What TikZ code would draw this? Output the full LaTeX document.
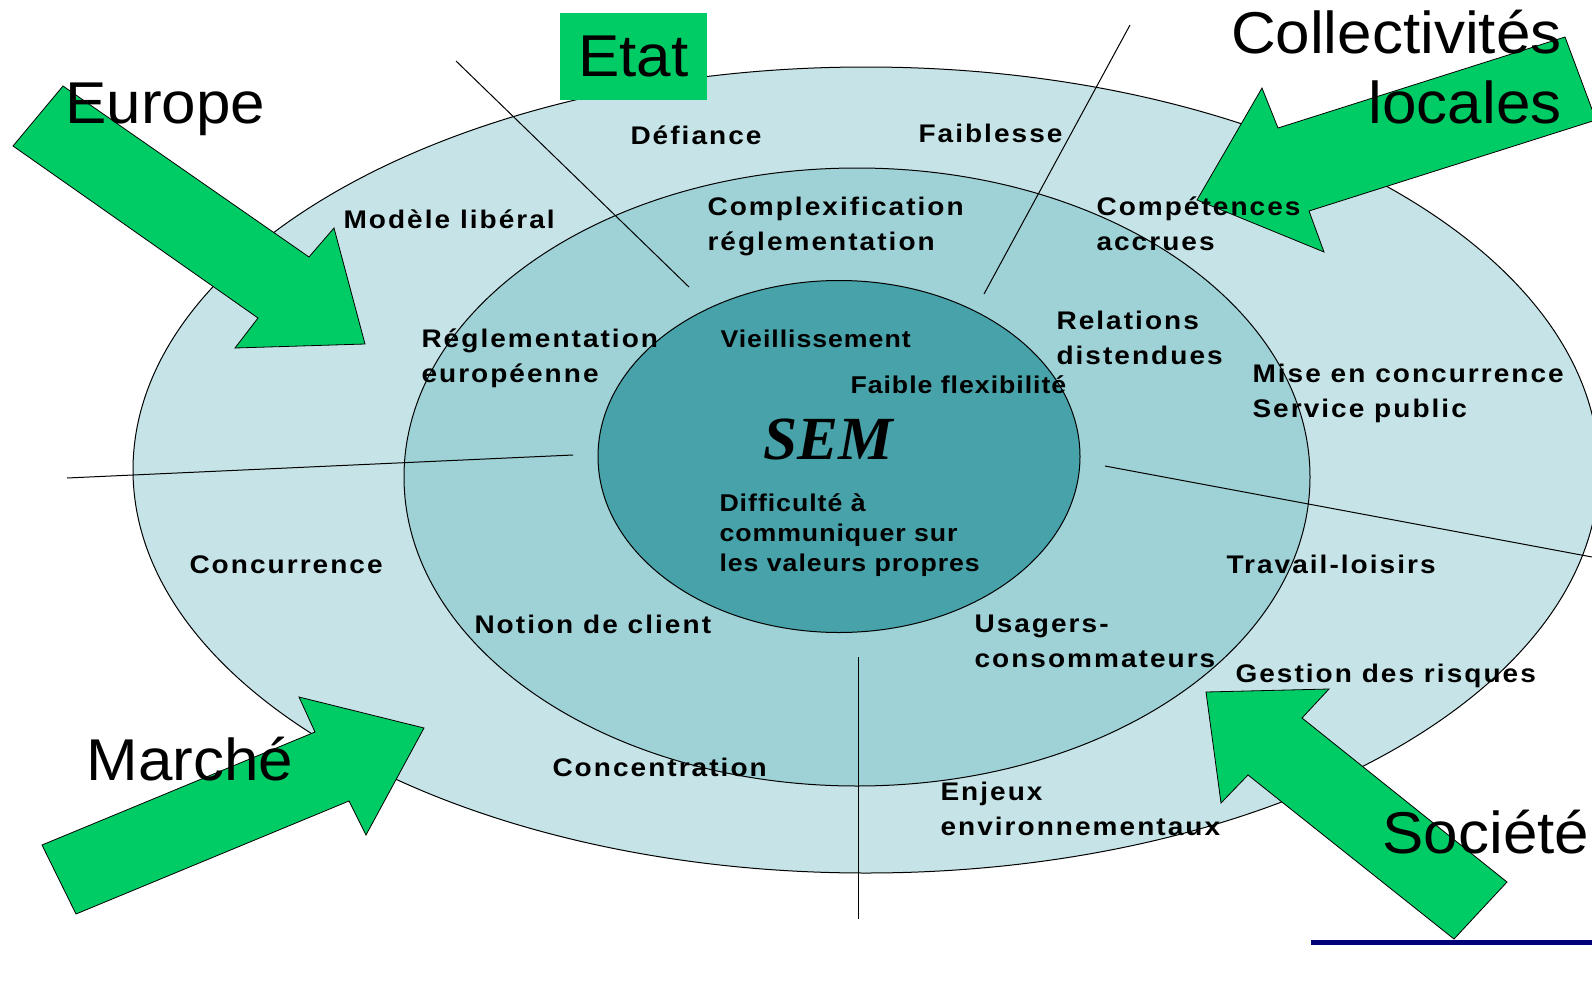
\documentclass[tikz,border=0pt]{standalone}
\usepackage{fontspec}
\newfontfamily\lblfont{Liberation Sans}[FakeStretch=1.1,LetterSpace=8]
\newfontfamily\lblinfont{Liberation Sans}[FakeStretch=1.1,LetterSpace=4]
\newfontfamily\bigfont{Liberation Sans}[FakeStretch=1.05]
\newfontfamily\semfont{Liberation Serif}

\definecolor{ringout}{RGB}{198,228,231}
\definecolor{ringmid}{RGB}{158,210,214}
\definecolor{ringin}{RGB}{71,162,169}
\definecolor{forcegreen}{RGB}{0,204,102}
\definecolor{rulenavy}{RGB}{0,0,120}

\tikzset{every picture/.style={line width=0.75pt}}
\tikzset{
  lbl/.style={anchor=base west, inner sep=0pt, align=left, font=\lblfont\bfseries\fontsize{19.1}{26.25}\selectfont},
  lblin/.style={anchor=base west, inner sep=0pt, align=left, font=\lblinfont\bfseries\fontsize{18.2}{22.5}\selectfont},
  biglbl/.style={anchor=base west, inner sep=0pt, font=\bigfont\fontsize{44.25}{52.5}\selectfont},
  forcearrow/.style={draw=black, line width=0.6pt, fill=forcegreen},
  statebox/.style={fill=forcegreen, inner sep=0pt, minimum width=110.25pt, minimum height=65.25pt, font=\bigfont\fontsize{44.25}{52.5}\selectfont},
}

\begin{document}
\begin{tikzpicture}[x=0.75pt,y=0.75pt,yscale=-1,xscale=1]
\useasboundingbox (0,0) rectangle (1592,985);

%Shape: Ellipse [outer ring]
\draw [fill=ringout] (866,470) ellipse (733 and 403);
%Shape: Ellipse [middle ring]
\draw [fill=ringmid] (857,477) ellipse (453 and 309);
%Shape: Ellipse [core]
\draw [fill=ringin] (839,456.5) ellipse (241 and 176);

%Straight Lines
\draw    (456,61) -- (689,287) ;
%Straight Lines
\draw    (1130,25) -- (984,294) ;
%Straight Lines
\draw    (67,478) -- (573,455) ;
%Straight Lines
\draw    (1105,466) -- (1592,557) ;
%Straight Lines
\draw    (858,657) -- (858,919) ;
%Straight Lines
\draw [color=rulenavy, line width=3.75pt]  (1311,942) -- (1592,942) ;

%Shape: Arrow [Europe]
\draw [forcearrow] (63,86) -- (13,146) -- (258,318) -- (235,348) -- (365,344) -- (334,228) -- (309,257) -- cycle ;
%Shape: Arrow [Collectivites]
\draw [forcearrow] (1565,37) -- (1596,120) -- (1309,211) -- (1324,252) -- (1197,200) -- (1262,88) -- (1278,128) -- cycle ;
%Shape: Arrow [Marche]
\draw [forcearrow] (42,845) -- (76,914) -- (349,801) -- (366,835) -- (424,728) -- (299,697) -- (315,732) -- cycle ;
%Shape: Arrow [Societe]
\draw [forcearrow] (1206,692) -- (1329,689) -- (1302,718) -- (1507,882) -- (1454,939) -- (1248,775) -- (1221,803) -- cycle ;

% Text Node
\node [statebox] (etat) at (633.5,56.5) {Etat};
% Text Node
\node [biglbl] (europe) at (65,123) {Europe};
% Text Node
\node [biglbl, anchor=base east, align=right] (collectivites) at (1562,123) {Collectivités\\locales};
% Text Node
\node [biglbl] (marche) at (86,780) {Marché};
% Text Node
\node [biglbl] (societe) at (1382,853) {Société};

% Text Node
\node [anchor=base west, inner sep=0pt, font=\semfont\bfseries\itshape\fontsize{46}{50}\selectfont] (sem) at (763,459) {SEM};

% Text Node
\node [lbl] (defiance) at (630,144) {Défiance};
% Text Node
\node [lbl] (faiblesse) at (918,142) {Faiblesse};
% Text Node
\node [lbl] (modele) at (343,228) {Modèle libéral};
% Text Node
\node [lbl] (complexif) at (707,250) {Complexification\\réglementation};
% Text Node
\node [lbl] (competences) at (1096,250) {Compétences\\accrues};
% Text Node
\node [lbl] (reglement) at (421,382) {Réglementation\\européenne};
% Text Node
\node [lbl] (relations) at (1056,364) {Relations\\distendues};
% Text Node
\node [lbl] (miseconc) at (1252,417) {Mise en concurrence\\Service public};
% Text Node
\node [lbl] (concurrence) at (189,573) {Concurrence};
% Text Node
\node [lbl] (notion) at (474,633) {Notion de client};
% Text Node
\node [lbl] (concentration) at (552,776) {Concentration};
% Text Node
\node [lbl] (travail) at (1226,573) {Travail-loisirs};
% Text Node
\node [lbl] (usagers) at (974,667) {Usagers-\\consommateurs};
% Text Node
\node [lbl] (gestion) at (1235,682) {Gestion des risques};
% Text Node
\node [lbl] (enjeux) at (940,835) {Enjeux\\environnementaux};

% Text Node
\node [lblin] (vieill) at (720,347) {Vieillissement};
% Text Node
\node [lblin] (flexib) at (850,393) {Faible flexibilité};
% Text Node
\node [lblin] (difficulte) at (719,571) {Difficulté à\\communiquer sur\\les valeurs propres};

\end{tikzpicture}
\end{document}
